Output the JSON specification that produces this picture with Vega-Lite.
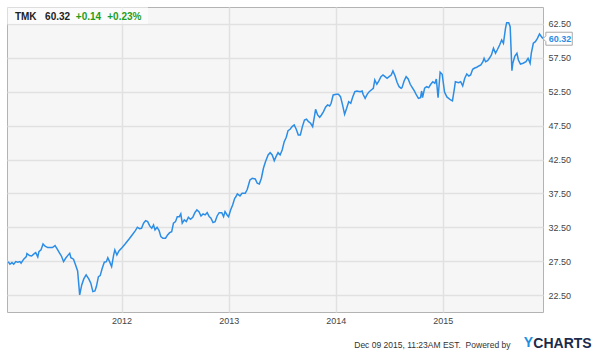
{
  "$schema": "https://vega.github.io/schema/vega-lite/v6.json",
  "width": 536,
  "height": 305,
  "autosize": {"type": "none"},
  "padding": {"left": 7, "top": 7, "right": 57, "bottom": 42},
  "background": "white",
  "config": {
    "font": "Liberation Sans",
    "view": {"fill": "#f6f6f6", "stroke": "#b3b3b3", "strokeWidth": 1}
  },
  "title": {
    "text": "CHARTS",
    "orient": "top",
    "anchor": "end",
    "frame": "group",
    "align": "left",
    "baseline": "alphabetic",
    "dx": -9.7,
    "dy": 355,
    "offset": 0,
    "fontSize": 14,
    "fontWeight": "bold",
    "color": "#1c2a4a",
    "font": "Liberation Sans"
  },
  "data": {
    "values": [
      {"date": "2010-12-10", "price": 27.43},
      {"date": "2010-12-16", "price": 27.05},
      {"date": "2010-12-23", "price": 27.29},
      {"date": "2010-12-29", "price": 27.05},
      {"date": "2011-01-05", "price": 27.43},
      {"date": "2011-01-12", "price": 27.35},
      {"date": "2011-01-19", "price": 27.43},
      {"date": "2011-01-23", "price": 27.2},
      {"date": "2011-02-01", "price": 27.79},
      {"date": "2011-02-10", "price": 28.17},
      {"date": "2011-02-12", "price": 28.61},
      {"date": "2011-02-21", "price": 28.32},
      {"date": "2011-02-28", "price": 28.27},
      {"date": "2011-03-09", "price": 28.61},
      {"date": "2011-03-14", "price": 28.76},
      {"date": "2011-03-21", "price": 28.13},
      {"date": "2011-03-25", "price": 28.91},
      {"date": "2011-04-01", "price": 29.16},
      {"date": "2011-04-08", "price": 30.04},
      {"date": "2011-04-15", "price": 29.71},
      {"date": "2011-04-24", "price": 29.5},
      {"date": "2011-05-10", "price": 29.5},
      {"date": "2011-05-19", "price": 29.79},
      {"date": "2011-05-26", "price": 29.31},
      {"date": "2011-06-03", "price": 28.72},
      {"date": "2011-06-10", "price": 28.23},
      {"date": "2011-06-17", "price": 27.43},
      {"date": "2011-06-24", "price": 27.93},
      {"date": "2011-07-01", "price": 28.32},
      {"date": "2011-07-08", "price": 28.67},
      {"date": "2011-07-12", "price": 28.02},
      {"date": "2011-07-21", "price": 27.79},
      {"date": "2011-07-28", "price": 26.95},
      {"date": "2011-08-04", "price": 26.06},
      {"date": "2011-08-11", "price": 22.52},
      {"date": "2011-08-18", "price": 24.0},
      {"date": "2011-08-25", "price": 24.88},
      {"date": "2011-09-02", "price": 25.47},
      {"date": "2011-09-11", "price": 24.88},
      {"date": "2011-09-18", "price": 24.25},
      {"date": "2011-09-25", "price": 23.01},
      {"date": "2011-10-02", "price": 23.11},
      {"date": "2011-10-07", "price": 23.75},
      {"date": "2011-10-14", "price": 25.22},
      {"date": "2011-10-20", "price": 25.37},
      {"date": "2011-10-27", "price": 26.46},
      {"date": "2011-11-03", "price": 27.35},
      {"date": "2011-11-10", "price": 27.43},
      {"date": "2011-11-15", "price": 28.02},
      {"date": "2011-11-21", "price": 27.43},
      {"date": "2011-11-28", "price": 26.7},
      {"date": "2011-12-05", "price": 28.42},
      {"date": "2011-12-09", "price": 29.16},
      {"date": "2011-12-16", "price": 28.42},
      {"date": "2011-12-23", "price": 29.0},
      {"date": "2012-01-03", "price": 29.53},
      {"date": "2012-01-13", "price": 30.04},
      {"date": "2012-01-26", "price": 30.74},
      {"date": "2012-02-06", "price": 31.37},
      {"date": "2012-02-17", "price": 32.01},
      {"date": "2012-02-24", "price": 32.51},
      {"date": "2012-03-02", "price": 32.3},
      {"date": "2012-03-09", "price": 32.36},
      {"date": "2012-03-16", "price": 33.1},
      {"date": "2012-03-23", "price": 33.48},
      {"date": "2012-03-30", "price": 33.33},
      {"date": "2012-04-06", "price": 32.7},
      {"date": "2012-04-13", "price": 32.36},
      {"date": "2012-04-19", "price": 32.85},
      {"date": "2012-04-24", "price": 32.11},
      {"date": "2012-05-01", "price": 32.51},
      {"date": "2012-05-08", "price": 32.01},
      {"date": "2012-05-14", "price": 31.12},
      {"date": "2012-05-21", "price": 30.88},
      {"date": "2012-05-30", "price": 30.88},
      {"date": "2012-06-06", "price": 31.37},
      {"date": "2012-06-13", "price": 31.71},
      {"date": "2012-06-20", "price": 31.86},
      {"date": "2012-06-26", "price": 33.1},
      {"date": "2012-07-03", "price": 33.33},
      {"date": "2012-07-09", "price": 34.07},
      {"date": "2012-07-16", "price": 34.07},
      {"date": "2012-07-21", "price": 34.47},
      {"date": "2012-07-26", "price": 33.1},
      {"date": "2012-08-02", "price": 33.58},
      {"date": "2012-08-09", "price": 33.33},
      {"date": "2012-08-16", "price": 33.98},
      {"date": "2012-08-23", "price": 33.69},
      {"date": "2012-08-31", "price": 33.98},
      {"date": "2012-09-07", "price": 34.66},
      {"date": "2012-09-14", "price": 35.06},
      {"date": "2012-09-21", "price": 34.81},
      {"date": "2012-09-28", "price": 34.17},
      {"date": "2012-10-05", "price": 34.47},
      {"date": "2012-10-12", "price": 34.32},
      {"date": "2012-10-19", "price": 34.66},
      {"date": "2012-10-26", "price": 34.07},
      {"date": "2012-11-01", "price": 33.84},
      {"date": "2012-11-08", "price": 33.19},
      {"date": "2012-11-15", "price": 33.33},
      {"date": "2012-11-22", "price": 34.17},
      {"date": "2012-11-29", "price": 34.66},
      {"date": "2012-12-08", "price": 34.66},
      {"date": "2012-12-14", "price": 34.07},
      {"date": "2012-12-19", "price": 34.81},
      {"date": "2012-12-26", "price": 34.32},
      {"date": "2012-12-31", "price": 34.07},
      {"date": "2013-01-07", "price": 35.06},
      {"date": "2013-01-14", "price": 35.8},
      {"date": "2013-01-21", "price": 36.78},
      {"date": "2013-01-24", "price": 36.93},
      {"date": "2013-01-30", "price": 37.42},
      {"date": "2013-02-08", "price": 37.12},
      {"date": "2013-02-15", "price": 37.52},
      {"date": "2013-02-26", "price": 37.52},
      {"date": "2013-03-05", "price": 38.11},
      {"date": "2013-03-14", "price": 39.48},
      {"date": "2013-03-22", "price": 39.73},
      {"date": "2013-04-01", "price": 39.63},
      {"date": "2013-04-08", "price": 39.0},
      {"date": "2013-04-15", "price": 38.89},
      {"date": "2013-04-22", "price": 39.73},
      {"date": "2013-04-29", "price": 41.21},
      {"date": "2013-05-06", "price": 42.18},
      {"date": "2013-05-15", "price": 43.17},
      {"date": "2013-05-22", "price": 43.51},
      {"date": "2013-05-29", "price": 43.17},
      {"date": "2013-06-05", "price": 42.33},
      {"date": "2013-06-11", "price": 42.92},
      {"date": "2013-06-18", "price": 43.51},
      {"date": "2013-06-25", "price": 43.17},
      {"date": "2013-07-02", "price": 43.91},
      {"date": "2013-07-09", "price": 45.13},
      {"date": "2013-07-16", "price": 45.78},
      {"date": "2013-07-22", "price": 46.76},
      {"date": "2013-07-29", "price": 46.96},
      {"date": "2013-08-05", "price": 47.35},
      {"date": "2013-08-12", "price": 47.6},
      {"date": "2013-08-19", "price": 46.96},
      {"date": "2013-08-26", "price": 46.12},
      {"date": "2013-09-02", "price": 46.12},
      {"date": "2013-09-09", "price": 47.35},
      {"date": "2013-09-16", "price": 48.33},
      {"date": "2013-09-23", "price": 48.44},
      {"date": "2013-09-30", "price": 48.08},
      {"date": "2013-10-07", "price": 47.85},
      {"date": "2013-10-14", "price": 47.35},
      {"date": "2013-10-20", "price": 48.82},
      {"date": "2013-10-24", "price": 49.91},
      {"date": "2013-10-31", "price": 49.07},
      {"date": "2013-11-07", "price": 48.73},
      {"date": "2013-11-13", "price": 49.07},
      {"date": "2013-11-20", "price": 49.56},
      {"date": "2013-11-27", "price": 50.21},
      {"date": "2013-12-04", "price": 50.55},
      {"date": "2013-12-11", "price": 50.4},
      {"date": "2013-12-16", "price": 50.8},
      {"date": "2013-12-23", "price": 52.02},
      {"date": "2014-01-03", "price": 52.12},
      {"date": "2014-01-10", "price": 52.12},
      {"date": "2014-01-17", "price": 51.77},
      {"date": "2014-01-24", "price": 50.55},
      {"date": "2014-01-31", "price": 49.17},
      {"date": "2014-02-07", "price": 50.06},
      {"date": "2014-02-14", "price": 51.03},
      {"date": "2014-02-21", "price": 50.8},
      {"date": "2014-02-28", "price": 51.77},
      {"date": "2014-03-07", "price": 52.51},
      {"date": "2014-03-14", "price": 52.61},
      {"date": "2014-03-25", "price": 52.51},
      {"date": "2014-04-01", "price": 52.61},
      {"date": "2014-04-04", "price": 52.12},
      {"date": "2014-04-11", "price": 51.53},
      {"date": "2014-04-18", "price": 52.12},
      {"date": "2014-04-25", "price": 52.51},
      {"date": "2014-05-02", "price": 52.76},
      {"date": "2014-05-09", "price": 53.01},
      {"date": "2014-05-14", "price": 54.23},
      {"date": "2014-05-21", "price": 53.6},
      {"date": "2014-05-28", "price": 54.09},
      {"date": "2014-06-04", "price": 54.72},
      {"date": "2014-06-11", "price": 54.97},
      {"date": "2014-06-18", "price": 54.72},
      {"date": "2014-06-25", "price": 54.48},
      {"date": "2014-07-02", "price": 54.72},
      {"date": "2014-07-09", "price": 54.97},
      {"date": "2014-07-15", "price": 55.56},
      {"date": "2014-07-22", "price": 54.87},
      {"date": "2014-07-29", "price": 53.89},
      {"date": "2014-08-05", "price": 53.24},
      {"date": "2014-08-12", "price": 53.01},
      {"date": "2014-08-15", "price": 53.1},
      {"date": "2014-08-22", "price": 54.09},
      {"date": "2014-08-29", "price": 54.72},
      {"date": "2014-09-05", "price": 54.38},
      {"date": "2014-09-12", "price": 53.6},
      {"date": "2014-09-19", "price": 53.1},
      {"date": "2014-09-26", "price": 52.61},
      {"date": "2014-10-03", "price": 52.02},
      {"date": "2014-10-10", "price": 51.53},
      {"date": "2014-10-17", "price": 51.62},
      {"date": "2014-10-21", "price": 52.61},
      {"date": "2014-10-24", "price": 51.62},
      {"date": "2014-10-31", "price": 53.01},
      {"date": "2014-11-07", "price": 53.24},
      {"date": "2014-11-14", "price": 53.1},
      {"date": "2014-11-21", "price": 53.6},
      {"date": "2014-11-28", "price": 53.98},
      {"date": "2014-12-05", "price": 53.75},
      {"date": "2014-12-10", "price": 54.38},
      {"date": "2014-12-16", "price": 51.62},
      {"date": "2014-12-23", "price": 55.37},
      {"date": "2014-12-30", "price": 55.07},
      {"date": "2015-01-07", "price": 52.46},
      {"date": "2015-01-15", "price": 51.73},
      {"date": "2015-01-28", "price": 51.28},
      {"date": "2015-02-03", "price": 51.14},
      {"date": "2015-02-09", "price": 52.76},
      {"date": "2015-02-13", "price": 53.98},
      {"date": "2015-02-24", "price": 53.83},
      {"date": "2015-03-03", "price": 53.98},
      {"date": "2015-03-10", "price": 53.35},
      {"date": "2015-03-17", "price": 54.48},
      {"date": "2015-03-24", "price": 55.12},
      {"date": "2015-03-31", "price": 54.82},
      {"date": "2015-04-06", "price": 54.97},
      {"date": "2015-04-13", "price": 55.81},
      {"date": "2015-04-20", "price": 56.0},
      {"date": "2015-04-27", "price": 56.11},
      {"date": "2015-05-04", "price": 56.3},
      {"date": "2015-05-11", "price": 56.45},
      {"date": "2015-05-18", "price": 56.93},
      {"date": "2015-05-22", "price": 57.43},
      {"date": "2015-05-27", "price": 56.93},
      {"date": "2015-06-03", "price": 57.08},
      {"date": "2015-06-09", "price": 57.43},
      {"date": "2015-06-16", "price": 57.92},
      {"date": "2015-06-23", "price": 58.91},
      {"date": "2015-06-30", "price": 58.17},
      {"date": "2015-07-07", "price": 58.76},
      {"date": "2015-07-14", "price": 59.4},
      {"date": "2015-07-21", "price": 60.13},
      {"date": "2015-07-27", "price": 59.65},
      {"date": "2015-08-03", "price": 61.86},
      {"date": "2015-08-07", "price": 62.68},
      {"date": "2015-08-14", "price": 62.68},
      {"date": "2015-08-19", "price": 62.09},
      {"date": "2015-08-25", "price": 55.6},
      {"date": "2015-08-28", "price": 56.7},
      {"date": "2015-09-04", "price": 57.77},
      {"date": "2015-09-11", "price": 58.17},
      {"date": "2015-09-16", "price": 57.18},
      {"date": "2015-09-23", "price": 56.59},
      {"date": "2015-10-02", "price": 56.7},
      {"date": "2015-10-12", "price": 56.93},
      {"date": "2015-10-19", "price": 57.43},
      {"date": "2015-10-26", "price": 56.7},
      {"date": "2015-10-30", "price": 58.17},
      {"date": "2015-11-06", "price": 59.65},
      {"date": "2015-11-13", "price": 59.88},
      {"date": "2015-11-20", "price": 60.38},
      {"date": "2015-11-27", "price": 61.02},
      {"date": "2015-12-02", "price": 60.72},
      {"date": "2015-12-09", "price": 60.32}
    ]
  },
  "layer": [
    {
      "data": {"values": [{}]},
      "mark": {"type": "rect", "color": "white", "opacity": 0.55},
      "encoding": {
        "x": {"datum": {"year": 2010, "month": 12, "date": 6, "utc": true}, "type": "temporal"},
        "x2": {"datum": {"year": 2012, "month": 3, "date": 31, "utc": true}},
        "y": {"datum": 65, "type": "quantitative"},
        "y2": {"datum": 62.5}
      }
    },
    {
      "mark": {"type": "line", "color": "#2b8de6", "strokeWidth": 1.5},
      "encoding": {
        "x": {
          "field": "date",
          "type": "temporal",
          "scale": {"type": "utc", "domain": [{"year": 2010, "month": 12, "date": 6, "utc": true}, {"year": 2015, "month": 12, "date": 9, "utc": true}]},
          "axis": {
            "values": [
              {"year": 2012, "month": 1, "date": 1, "utc": true},
              {"year": 2013, "month": 1, "date": 1, "utc": true},
              {"year": 2014, "month": 1, "date": 1, "utc": true},
              {"year": 2015, "month": 1, "date": 1, "utc": true}
            ],
            "tickCount": 20,
            "format": "%Y",
            "grid": true,
            "gridColor": "#e1e1e1",
            "gridWidth": 1.5,
            "ticks": false,
            "domain": false,
            "labelPadding": 4,
            "labelFontSize": 9,
            "labelColor": "#444444",
            "labelOverlap": false,
            "title": "Dec 09 2015, 11:23AM EST.\u00a0 Powered by",
            "titleX": 503,
            "titleY": 35,
            "titleAlign": "right",
            "titleBaseline": "alphabetic",
            "titleFontSize": 8.5,
            "titleFontWeight": "normal",
            "titleColor": "#333333"
          }
        },
        "y": {
          "field": "price",
          "type": "quantitative",
          "scale": {"domain": [20, 65], "nice": false, "zero": false},
          "axis": {
            "orient": "right",
            "values": [22.5, 27.5, 32.5, 37.5, 42.5, 47.5, 52.5, 57.5, 62.5],
            "tickCount": 20,
            "format": ".2f",
            "grid": true,
            "gridColor": "#e1e1e1",
            "gridWidth": 1.5,
            "ticks": false,
            "domain": false,
            "labelPadding": 5,
            "labelFontSize": 9,
            "labelColor": "#444444",
            "labelOverlap": false,
            "title": "Y",
            "titleX": -10.3,
            "titleY": 339.7,
            "titleAngle": 0,
            "titleAlign": "right",
            "titleBaseline": "alphabetic",
            "titleFontSize": 14,
            "titleFontWeight": "bold",
            "titleColor": "#1d8fe0"
          }
        }
      }
    },
    {
      "transform": [{"filter": "datum.price === 60.32"}],
      "mark": {
        "type": "point",
        "shape": "M0,0L0.22,-0.22L0.22,-0.5L2.25,-0.5L2.25,0.5L0.22,0.5L0.22,0.22Z",
        "size": 676,
        "filled": true,
        "fill": "white",
        "stroke": "#a8a8a8",
        "strokeWidth": 1,
        "opacity": 1
      },
      "encoding": {
        "x": {"field": "date", "type": "temporal"},
        "y": {"field": "price", "type": "quantitative"}
      }
    },
    {
      "transform": [{"filter": "datum.price === 60.32"}],
      "mark": {"type": "text", "align": "center", "baseline": "middle", "dx": 17, "fontSize": 9, "fontWeight": "bold", "color": "#2b8de6"},
      "encoding": {
        "x": {"field": "date", "type": "temporal"},
        "y": {"field": "price", "type": "quantitative"},
        "text": {"field": "price", "type": "quantitative", "format": ".2f"}
      }
    },
    {
      "data": {"values": [{}]},
      "mark": {"type": "text", "align": "left", "baseline": "alphabetic", "fontSize": 10, "fontWeight": "bold", "color": "#222222"},
      "encoding": {
        "x": {"datum": {"year": 2011, "month": 1, "date": 2, "utc": true}, "type": "temporal"},
        "y": {"datum": 63.08, "type": "quantitative"},
        "text": {"value": "TMK"}
      }
    },
    {
      "data": {"values": [{}]},
      "mark": {"type": "text", "align": "left", "baseline": "alphabetic", "fontSize": 10, "fontWeight": "bold", "color": "#222222"},
      "encoding": {
        "x": {"datum": {"year": 2011, "month": 4, "date": 15, "utc": true}, "type": "temporal"},
        "y": {"datum": 63.08, "type": "quantitative"},
        "text": {"value": "60.32"}
      }
    },
    {
      "data": {"values": [{}]},
      "mark": {"type": "text", "align": "left", "baseline": "alphabetic", "fontSize": 10, "fontWeight": "bold", "color": "#1e9e1e"},
      "encoding": {
        "x": {"datum": {"year": 2011, "month": 7, "date": 29, "utc": true}, "type": "temporal"},
        "y": {"datum": 63.08, "type": "quantitative"},
        "text": {"value": "+0.14"}
      }
    },
    {
      "data": {"values": [{}]},
      "mark": {"type": "text", "align": "left", "baseline": "alphabetic", "fontSize": 10, "fontWeight": "bold", "color": "#1e9e1e"},
      "encoding": {
        "x": {"datum": {"year": 2011, "month": 11, "date": 13, "utc": true}, "type": "temporal"},
        "y": {"datum": 63.08, "type": "quantitative"},
        "text": {"value": "+0.23%"}
      }
    }
  ]
}
